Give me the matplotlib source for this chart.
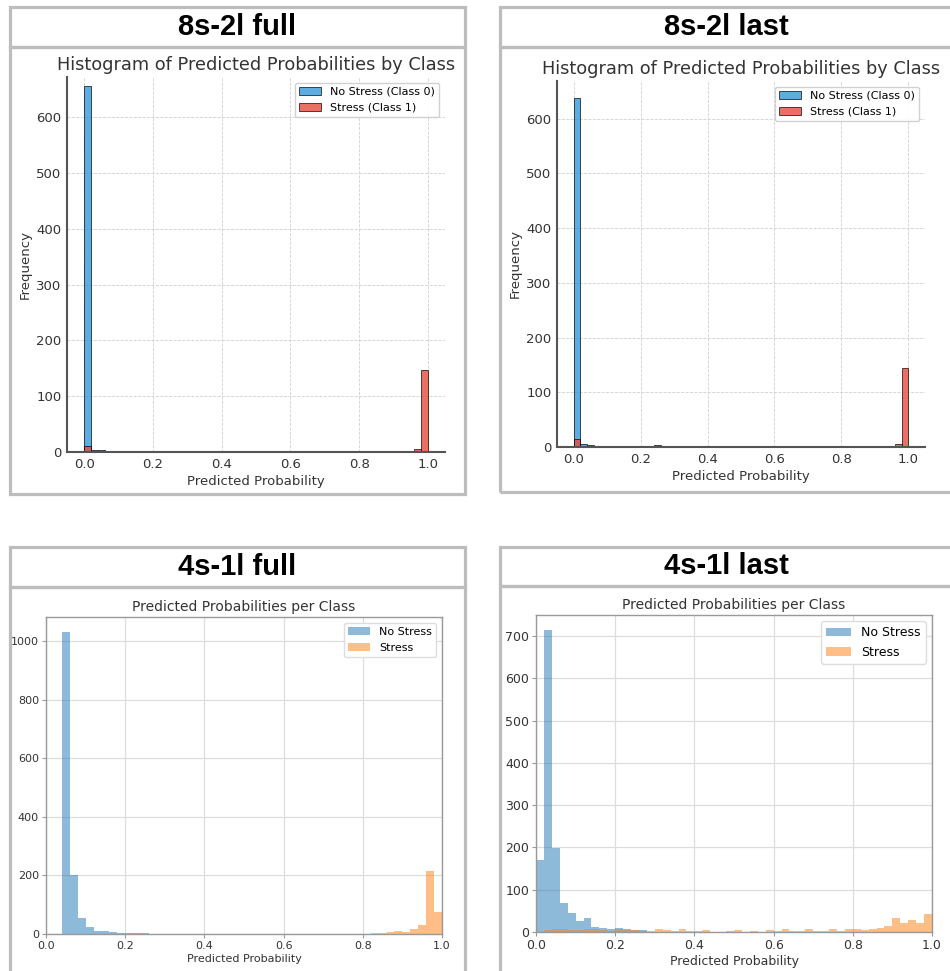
import numpy as np
import matplotlib
matplotlib.use("Agg")
import matplotlib.pyplot as plt
from matplotlib.patches import Rectangle

# bins of width 0.02 from 0 to 1 (50 bins), counts
bin_edges = np.linspace(0, 1, 51)

# 8s-2l full
tl_no_stress = [655, 3, 3, 0, 0, 0, 0, 0, 0, 0,
                0, 0, 2, 0, 0, 0, 0, 0, 2, 0,
                0, 0, 0, 0, 0, 0, 0, 0, 0, 0,
                0, 2, 0, 0, 0, 0, 0, 0, 0, 0,
                0, 0, 0, 0, 0, 0, 0, 0, 0, 0]
tl_stress = [10, 0, 0, 0, 1, 0, 1, 0, 0, 0,
             1, 0, 0, 0, 0, 0, 1, 0, 0, 0,
             1, 0, 0, 0, 0, 0, 0, 1, 0, 0,
             0, 0, 0, 0, 0, 0, 1, 0, 0, 0,
             0, 0, 0, 0, 0, 1, 0, 0, 5, 147]

# 8s-2l last
tr_no_stress = [638, 5, 3, 0, 0, 0, 0, 0, 0, 0,
                0, 0, 3, 0, 0, 0, 0, 0, 2, 0,
                0, 0, 0, 0, 0, 0, 0, 0, 0, 0,
                0, 2, 0, 0, 0, 0, 0, 0, 0, 0,
                0, 0, 0, 0, 0, 0, 0, 0, 0, 0]
tr_stress = [15, 0, 0, 0, 1, 0, 1, 0, 0, 0,
             1, 0, 0, 0, 0, 0, 1, 0, 0, 0,
             1, 0, 0, 0, 0, 0, 0, 1, 0, 0,
             0, 0, 0, 0, 0, 0, 1, 0, 0, 0,
             0, 0, 0, 0, 0, 1, 0, 0, 5, 145]

# 4s-1l full
bl_no_stress = [0, 0, 1030, 200, 54, 23, 9, 9, 7, 4,
                3, 2, 2, 1, 1, 1, 1, 0, 0, 0,
                0, 0, 1, 0, 0, 1, 0, 0, 0, 1,
                0, 0, 0, 0, 0, 0, 0, 0, 0, 0,
                0, 0, 0, 0, 0, 0, 0, 0, 0, 0]
bl_stress = [0, 0, 0, 0, 0, 0, 0, 0, 0, 0,
             0, 0, 0, 0, 0, 0, 0, 1, 1, 1,
             0, 0, 0, 1, 0, 0, 0, 0, 1, 0,
             0, 0, 0, 0, 0, 1, 0, 0, 0, 0,
             1, 2, 5, 8, 9, 8, 16, 31, 214, 76]

# 4s-1l last
br_no_stress = [170, 714, 198, 68, 45, 27, 32, 13, 9, 6,
                10, 6, 5, 5, 1, 0, 0, 0, 0, 1,
                0, 0, 0, 0, 1, 0, 0, 0, 0, 0,
                0, 0, 0, 0, 0, 0, 0, 0, 0, 0,
                0, 0, 0, 0, 0, 0, 0, 0, 0, 0]
br_stress = [1, 5, 6, 8, 5, 5, 6, 6, 4, 3,
             8, 5, 5, 3, 2, 7, 4, 2, 7, 2,
             2, 5, 1, 1, 2, 5, 1, 2, 1, 5,
             2, 8, 2, 2, 6, 2, 2, 7, 3, 7,
             7, 5, 6, 10, 15, 32, 22, 29, 22, 42]

panel_titles = ["8s-2l full", "8s-2l last", "4s-1l full", "4s-1l last"]

W, H = 950, 971
fig = plt.figure(figsize=(W / 100, H / 100), dpi=100)
fig.patch.set_facecolor("white")


def frect(x0, y0, x1, y1):
    # pixel box (top-left origin) -> figure fraction rect
    return [x0 / W, 1 - y1 / H, (x1 - x0) / W, (y1 - y0) / H]


def box(x0, y0, x1, y1):
    r = frect(x0, y0, x1, y1)
    fig.add_artist(Rectangle((r[0], r[1]), r[2], r[3], transform=fig.transFigure,
                             fill=False, ec="#bdbdbd", lw=2.3, clip_on=False))


def header(x0, y0, x1, y1, label):
    box(x0, y0, x1, y1)
    fig.text((x0 + x1) / 2 / W, 1 - (y0 + y1) / 2 / H, label, ha="center", va="center",
             fontsize=21, fontweight="bold", family=["Liberation Sans", "DejaVu Sans"])


# panel frames
header(10, 7, 465, 47, panel_titles[0])
box(10, 47, 465, 494)
header(500, 7, 953, 47, panel_titles[1])
box(500, 47, 953, 492)
header(10, 547, 465, 587, panel_titles[2])
box(10, 587, 465, 976)
header(500, 547, 953, 586, panel_titles[3])
box(500, 586, 953, 976)

centers = (bin_edges[:-1] + bin_edges[1:]) / 2


def top_panel(rect, no_stress, stress, ytop):
    ax = fig.add_axes(frect(*rect))
    ax.hist(centers, bins=bin_edges, weights=no_stress, color="#3498db", alpha=0.8,
            edgecolor="black", linewidth=0.6, label="No Stress (Class 0)")
    ax.hist(centers, bins=bin_edges, weights=stress, color="#e74c3c", alpha=0.8,
            edgecolor="black", linewidth=0.6, label="Stress (Class 1)")
    ax.set_ylim(0, ytop)
    for s in ["top", "right"]:
        ax.spines[s].set_visible(False)
    for s in ["left", "bottom"]:
        ax.spines[s].set_color("#555555")
        ax.spines[s].set_linewidth(1.5)
    ax.grid(True, ls="--", lw=0.6, color="#d0d0d0")
    ax.set_axisbelow(True)
    ax.tick_params(length=0, labelsize=9.5, labelcolor="#333333", pad=4)
    ax.set_title("Histogram of Predicted Probabilities by Class", fontsize=12.8,
                 color="#333333", pad=5)
    ax.set_xlabel("Predicted Probability", fontsize=9.5, color="#333333", labelpad=3)
    ax.set_ylabel("Frequency", fontsize=9.5, color="#333333", labelpad=3)
    ax.legend(loc="upper right", fontsize=8, frameon=True, edgecolor="#cccccc",
              framealpha=0.9)
    return ax


def bottom_panel(rect, no_stress, stress, fs):
    ax = fig.add_axes(frect(*rect))
    ax.hist(centers, bins=bin_edges, weights=no_stress, color="#1f77b4", alpha=0.5,
            label="No Stress")
    ax.hist(centers, bins=bin_edges, weights=stress, color="#ff7f0e", alpha=0.5,
            label="Stress")
    ax.set_xlim(0, 1)
    for s in ax.spines.values():
        s.set_color("#999999")
        s.set_linewidth(1.0)
    ax.grid(True, ls="-", lw=0.9, color="#dddddd")
    ax.set_axisbelow(True)
    ax.tick_params(length=3, color="#999999", labelsize=fs, labelcolor="#333333", pad=2)
    ax.set_title("Predicted Probabilities per Class", fontsize=10, color="#333333", pad=4)
    ax.set_xlabel("Predicted Probability", fontsize=fs, color="#333333", labelpad=2)
    ax.legend(loc="upper right", fontsize=fs, frameon=True, edgecolor="#dddddd",
              framealpha=1.0)
    return ax


top_panel((67, 77, 445, 452), tl_no_stress, tl_stress, 672)
top_panel((557, 81, 925, 447), tr_no_stress, tr_stress, 669)
bottom_panel((46, 617, 442, 934), bl_no_stress, bl_stress, 8)
bottom_panel((536, 615, 932, 932), br_no_stress, br_stress, 9)

fig.savefig("out.png", dpi=100)
